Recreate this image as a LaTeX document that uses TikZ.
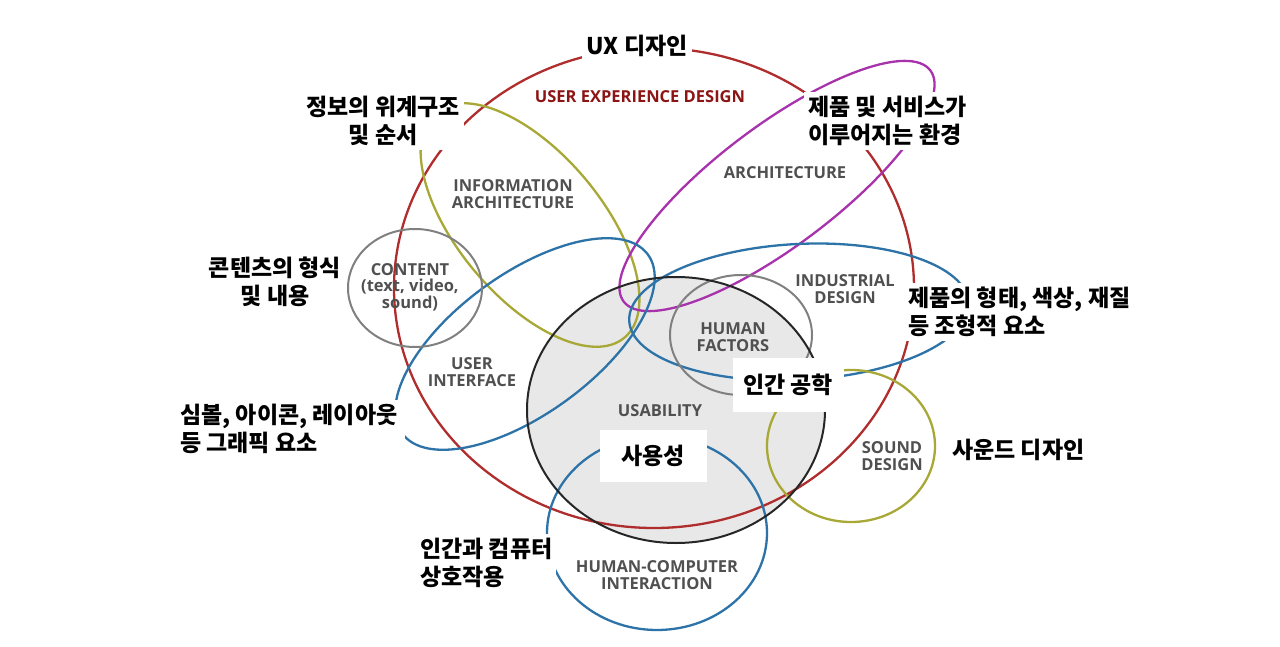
\documentclass[tikz,border=0pt]{standalone}
\usepackage{fontspec}
\setmainfont{Open Sans}
\newfontfamily\kr{Noto Sans CJK KR}

\definecolor{uxred}{RGB}{175,45,45}
\definecolor{uxtitle}{RGB}{140,20,20}
\definecolor{iaolive}{RGB}{168,168,55}
\definecolor{archpurple}{RGB}{168,50,172}
\definecolor{uiblue}{RGB}{45,115,168}
\definecolor{hfgray}{RGB}{128,128,128}
\definecolor{lblgray}{RGB}{80,80,80}
\definecolor{usafill}{RGB}{232,232,232}

\begin{document}
\begin{tikzpicture}[x=1pt, y=-1pt,
    curva/.style={line width=2.3pt},
    etichetta/.style={font=\bfseries\fontsize{16.5}{16.5}\selectfont, text=lblgray, align=center, inner sep=0pt},
    coreano/.style={font=\kr\bfseries\fontsize{23}{28}\selectfont, fill=white, inner sep=4pt}]
    \useasboundingbox (0,0) rectangle (1280,647);

    % Usabilita (sfondo)
    \fill[usafill] (676,410) ellipse [x radius=149, y radius=133];

    % Ellissi
    \draw[curva, uxred] (654,288) ellipse [x radius=260, y radius=240];
    \draw[curva, iaolive, rotate around={-50:(530,225)}] (530,225) ellipse [x radius=147, y radius=72];
    \draw[curva, archpurple, rotate around={37:(777,186)}] (777,186) ellipse [x radius=192, y radius=60];
    \draw[curva, uiblue, rotate around={36:(525,344)}] (525,344) ellipse [x radius=152, y radius=70];
    \draw[curva, uiblue, rotate around={3:(799,312)}] (799,312) ellipse [x radius=170, y radius=68];
    \draw[curva, uiblue] (657,533) ellipse [x radius=110, y radius=97];
    \draw[curva, iaolive] (851,446) ellipse [x radius=84, y radius=76];
    \draw[curva, hfgray, line width=2pt] (415,288) ellipse [x radius=67, y radius=59];
    \draw[curva, hfgray, line width=2pt] (741,335) ellipse [x radius=71, y radius=60];
    \draw[curva, black!85, line width=2pt] (676,410) ellipse [x radius=149, y radius=133];

    % Etichette inglesi
    \node[etichetta, text=uxtitle, font=\bfseries\fontsize{16.5}{17}\selectfont] (uxd) at (640,97) {USER EXPERIENCE DESIGN};
    \node[etichetta] (ia) at (513,194) {INFORMATION\\ARCHITECTURE};
    \node[etichetta] (arch) at (785,173) {ARCHITECTURE};
    \node[etichetta] (content) at (410,287) {CONTENT\\(text, video,\\sound)};
    \node[etichetta] (ind) at (845,289) {INDUSTRIAL\\DESIGN};
    \node[etichetta] (hf) at (733,337) {HUMAN\\FACTORS};
    \node[etichetta] (ui) at (472,372) {USER\\INTERFACE};
    \node[etichetta] (usa) at (660,411) {USABILITY};
    \node[etichetta] (sd) at (892,456) {SOUND\\DESIGN};
    \node[etichetta] (hci) at (657,575) {HUMAN-COMPUTER\\INTERACTION};

    % Etichette coreane
    \node[coreano] (ux) at (637,46) {UX 디자인};
    \node[coreano, align=center] (gerarchia) at (383,121) {정보의 위계구조\\및 순서};
    \node[coreano, align=left, anchor=west] (ambiente) at (804,121) {제품 및 서비스가\\이루어지는 환경};
    \node[coreano, align=center] (contenuto) at (275,282) {콘텐츠의 형식\\및 내용};
    \node[coreano, align=left, anchor=west] (forma) at (904,312) {제품의 형태, 색상, 재질\\등 조형적 요소};
    \node[coreano, minimum width=111, minimum height=54] (ergonomia) at (788,385) {인간 공학};
    \node[coreano, align=left, anchor=west, inner xsep=8pt] (grafica) at (172,429) {심볼, 아이콘, 레이아웃\\등 그래픽 요소};
    \node[coreano, minimum width=107, minimum height=52] (usabilita) at (653,456) {사용성};
    \node[coreano, anchor=west] (suono) at (948,450) {사운드 디자인};
    \node[coreano, align=left, anchor=west] (interazione) at (416,563) {인간과 컴퓨터\\상호작용};

\end{tikzpicture}
\end{document}
